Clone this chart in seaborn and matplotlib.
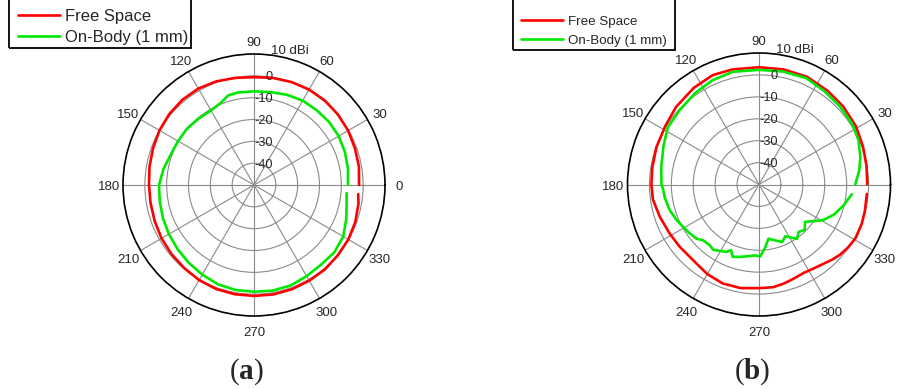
import numpy as np
import pandas as pd
import matplotlib
matplotlib.use("Agg")
import matplotlib.pyplot as plt
import seaborn as sns
from matplotlib.transforms import offset_copy
from matplotlib.patches import Rectangle

# ---------------- data (angle in degrees, gain in dBi) ----------------
a_free_ang = [0, 10, 20, 30, 40, 50, 60, 70, 80, 90, 100, 110, 120, 130, 140, 150, 160, 170,
              180, 190, 200, 210, 220, 230, 240, 250, 260, 270, 280, 290, 300, 310, 320, 330,
              340, 350, 355]
a_free_db = [-1.9, -1.2, -0.8, -0.2, 0.2, 0.5, 0.5, 0.2, -0.2, -0.6, -0.2, 0.5, 1.0, 1.0, 0.6,
             0.0, -0.8, -1.4, -1.9, -1.9, -1.6, -1.1, -0.7, -0.3, 0.3, 0.7, 0.8, 0.8, 0.9, 0.8,
             0.6, 0.5, 0.1, -0.1, -0.6, -1.4, -2.1]

a_body_ang = [0, 10, 20, 30, 40, 50, 60, 70, 80, 90, 100, 106, 112, 120, 130, 140, 150, 160,
              170, 180, 190, 200, 210, 220, 230, 240, 250, 260, 270, 280, 290, 300, 310, 320,
              330, 340, 347, 355]
a_body_db = [-7.0, -6.3, -5.7, -5.2, -5.1, -5.3, -5.4, -6.0, -6.8, -7.1, -7.0, -7.3, -9.4,
             -10.6, -10.4, -9.9, -9.8, -9.4, -7.9, -6.5, -6.2, -5.6, -5.0, -4.3, -3.5, -2.6,
             -1.6, -1.2, -1.1, -0.9, -1.0, -1.8, -2.3, -2.0, -2.8, -5.0, -6.5, -7.4]

b_free_ang = [0, 10, 20, 31, 43, 54, 66, 78, 90, 103, 113, 124, 137, 148, 160, 171, 180, 188,
              198, 209, 218, 229, 240, 250, 260, 270, 278, 284, 290, 297, 303, 308, 314, 319,
              325, 331, 339, 346, 355]
b_free_db = [-0.6, -0.2, 0.5, 1.6, 2.4, 3.0, 3.8, 3.7, 3.5, 3.9, 4.2, 3.2, 1.8, 0.4, -0.2,
             -0.7, -0.9, -1.1, -2.4, -3.5, -4.0, -4.2, -2.8, -1.9, -2.0, -2.7, -2.7, -3.4,
             -4.2, -4.8, -4.3, -3.6, -2.2, -1.1, -0.2, 0.4, 0.2, -0.2, -0.6]

b_body_ang = [0, 8, 15, 24, 33, 44, 55, 66, 78, 90, 103, 114, 125, 137, 148, 158, 170, 180,
              183, 188, 196, 203, 209, 215, 221, 225, 231, 235, 237, 244, 247, 250, 255, 260,
              267, 271, 275, 280, 286, 292, 297, 305, 310, 315, 321, 326, 331, 338, 346, 354]
b_body_db = [-6.1, -3.8, -2.1, -0.3, 0.7, 1.3, 2.0, 3.1, 2.7, 2.3, 2.8, 2.1, 0.9, -0.4, -0.9,
             -3.0, -4.7, -5.5, -6.2, -6.6, -7.6, -9.0, -10.3, -11.3, -12.3, -14.0, -14.3,
             -13.6, -14.2, -15.8, -17.4, -14.9, -15.8, -16.7, -17.6, -17.2, -20.6, -24.9,
             -23.5, -21.7, -23.5, -19.7, -21.8, -20.6, -22.9, -20.1, -16.5, -13.2, -10.3, -7.4]

series_names = ["Free Space", "On-Body (1 mm)"]
series_colors = ["#ff0000", "#00e800"]
angle_ticks = list(range(0, 360, 30))
ring_ticks = [-40, -30, -20, -10, 0]
r_min, r_max = -50, 10
panel_labels = ["a", "b"]

# ---------------- style ----------------
sns.set_style("white")
plt.rcParams["font.family"] = ["Liberation Sans", "DejaVu Sans"]
plt.rcParams["mathtext.fontset"] = "custom"
plt.rcParams["mathtext.rm"] = "Liberation Serif"
plt.rcParams["mathtext.bf"] = "Liberation Serif:bold"

W, H = 900, 389
fig = plt.figure(figsize=(9, 3.89), dpi=100)
axA = fig.add_axes([123 / W, 1 - 316 / H, 262 / W, 262 / H], projection="polar")
axB = fig.add_axes([627.5 / W, 1 - 316 / H, 263 / W, 263 / H], projection="polar")


def draw(ax, fa, fd, ba, bd, skip_angles=()):
    df = pd.concat([
        pd.DataFrame({"theta": np.deg2rad(fa), "gain": fd, "series": series_names[0]}),
        pd.DataFrame({"theta": np.deg2rad(ba), "gain": bd, "series": series_names[1]}),
    ])
    for name, col in zip(series_names, series_colors):
        sub = df[df["series"] == name]
        sns.lineplot(x=sub["theta"].values, y=sub["gain"].values, ax=ax, color=col,
                     lw=1.9, sort=False, estimator=None, label=name, legend=False)
    ax.set_xlabel("")
    ax.set_ylabel("")
    ax.set_ylim(r_min, r_max)
    ax.set_thetagrids(angle_ticks, labels=[""] * len(angle_ticks))
    ax.set_rgrids(ring_ticks, labels=[""] * len(ring_ticks))
    ax.grid(True, color="#8a8a8a", lw=0.8)
    ax.spines["polar"].set_color("black")
    ax.spines["polar"].set_linewidth(1.2)
    ax.tick_params(axis="both", length=0)
    # angle labels outside the rim
    for a in angle_ticks:
        if a in skip_angles:
            continue
        t = np.deg2rad(a)
        tr = offset_copy(ax.transData, fig=fig, x=14 * np.cos(t), y=14 * np.sin(t) - 1,
                         units="dots")
        ax.text(t, r_max, str(a), transform=tr, ha="center", va="center_baseline",
                fontsize=9.5, clip_on=False)
    # ring labels along the 90 deg spoke
    tr = offset_copy(ax.transData, fig=fig, x=19, y=0, units="dots")
    for r in ring_ticks:
        ax.text(np.pi / 2, r, str(r), transform=tr, ha="right", va="center_baseline",
                fontsize=9.2)
    tr2 = offset_copy(ax.transData, fig=fig, x=17, y=5, units="dots")
    ax.text(np.pi / 2, r_max, "10 dBi", transform=tr2, ha="left", va="center_baseline",
            fontsize=9.5)


draw(axA, a_free_ang, a_free_db, a_body_ang, a_body_db)
draw(axB, b_free_ang, b_free_db, b_body_ang, b_body_db, skip_angles=(0,))


def legend_box(ax, x0, x1, ybot, hx, ytop, fs, hlen, hpad, lsp):
    # open-topped frame like the reference
    fig.patches.append(Rectangle((x0 / W, 1 - ybot / H), (x1 - x0) / W, ybot / H + 0.05,
                                 transform=fig.transFigure, fill=False, edgecolor="black",
                                 lw=1.3, zorder=5))
    leg = ax.legend(loc="upper left", bbox_to_anchor=(hx / W, 1 - ytop / H),
                    bbox_transform=fig.transFigure, fontsize=fs, handlelength=hlen,
                    handletextpad=hpad, labelspacing=lsp, borderpad=0, borderaxespad=0,
                    frameon=False)
    return leg


legend_box(axA, 9.3, 190.7, 48.3, 18, 8.8, 12, 2.5, 0.3, 0.36)
legend_box(axB, 512.7, 675, 50, 520.7, 15.4, 9.6, 3.2, 0.37, 0.5)

# panel labels
for lab, xc in zip(panel_labels, [246 / W, 752 / W]):
    fig.text(xc, 1 - 372 / H, r"($\mathbf{%s}$)" % lab, ha="center", va="center",
             fontsize=21, family=["Liberation Serif", "DejaVu Serif"])

fig.savefig("out.png", dpi=100)
